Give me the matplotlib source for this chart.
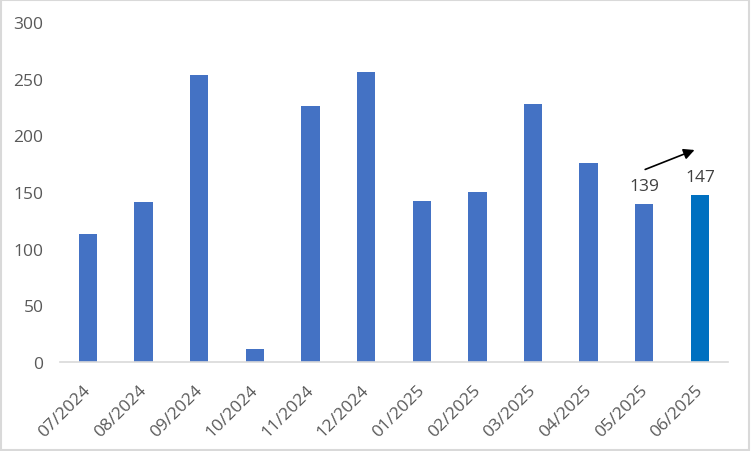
import matplotlib.pyplot as plt
import matplotlib.transforms as mtransforms
import numpy as np
from matplotlib.patches import Rectangle

plt.rcParams['font.family'] = ['Open Sans', 'DejaVu Sans']

months = ['07/2024', '08/2024', '09/2024', '10/2024', '11/2024', '12/2024',
          '01/2025', '02/2025', '03/2025', '04/2025', '05/2025', '06/2025']
values = [113, 141, 253, 11, 226, 256, 142, 150, 228, 176, 139, 147]
labelled = [10, 11]

bar_color = '#4472C4'
last_color = '#0070C0'
text_color = '#595959'


def plot_bars():
    fig = plt.figure(figsize=(7.51, 4.52), dpi=100)
    ax = fig.add_axes([0.08, 0.197, 0.889, 0.752])

    x = np.arange(len(months))
    colors = [bar_color] * (len(months) - 1) + [last_color]
    ax.bar(x, values, width=0.33, color=colors, zorder=2)

    # data labels on the last two bars
    for i in labelled:
        ax.text(x[i], values[i] + 9, str(values[i]), ha='center', va='bottom',
                fontsize=12.5, color='#404040')

    # trend arrow
    ax.annotate('', xy=(x[11] - 0.05, values[11] + 41),
                xytext=(x[10] - 0.03, values[10] + 30),
                arrowprops=dict(arrowstyle='-|>', color='black', lw=1.2,
                                mutation_scale=16))

    ax.set_xlim(-0.5, len(months) - 0.5)
    ax.set_ylim(0, 300)
    ax.set_yticks(np.arange(0, 301, 50))
    ax.set_xticks(x)
    ax.set_xticklabels(months, rotation=45, ha='right', va='top',
                       rotation_mode='anchor')
    ax.tick_params(axis='both', length=0, labelsize=12.5, labelcolor=text_color)
    ax.tick_params(axis='x', pad=14)
    ax.tick_params(axis='y', pad=12)

    shift = mtransforms.ScaledTranslation(-5 / 100, 0, fig.dpi_scale_trans)
    for lab in ax.get_xticklabels():
        lab.set_transform(lab.get_transform() + shift)

    for side in ['top', 'right', 'left']:
        ax.spines[side].set_visible(False)
    ax.spines['bottom'].set_color('#D9D9D9')
    ax.spines['bottom'].set_linewidth(1.2)

    # chart border
    fig.patches.append(Rectangle((0.001, 0.002), 0.997, 0.995,
                                 transform=fig.transFigure, fill=False,
                                 edgecolor='#D9D9D9', lw=1.5))

    fig.savefig('out.png', dpi=100)


plot_bars()
